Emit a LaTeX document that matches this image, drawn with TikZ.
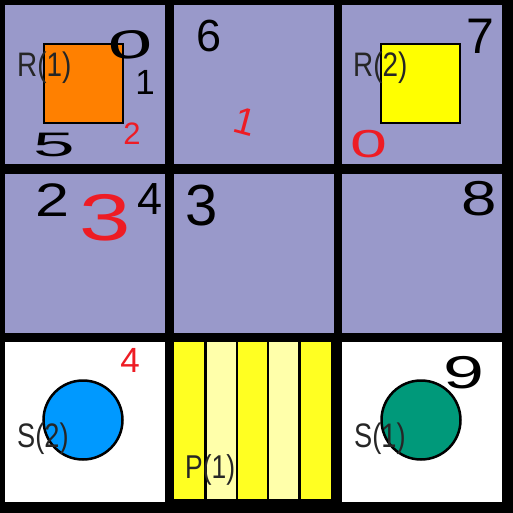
\documentclass[tikz,border=0pt]{standalone}
\usepackage{fontspec}
\setmainfont{Liberation Sans}
\definecolor{lila}{HTML}{9999CA}
\definecolor{naranja}{HTML}{FF8000}
\definecolor{amarillo}{HTML}{FFFF00}
\definecolor{franja}{HTML}{FFFF22}
\definecolor{palido}{HTML}{FFFFAA}
\definecolor{celeste}{HTML}{0099FF}
\definecolor{verde}{HTML}{00997A}
\definecolor{rojo}{HTML}{EE1C24}
\newcommand{\tam}[1]{\fontsize{#1}{#1}\selectfont}

\begin{document}
\begin{tikzpicture}[x=1pt, y=-1pt,
    sqbox/.style={draw=black, line width=2.5pt, minimum size=79pt, inner sep=0pt},
    ball/.style={circle, draw=black, line width=2.5pt, minimum size=79pt, inner sep=0pt},
    tagtext/.style={inner sep=0pt, anchor=base west, text=black!85, font=\tam{34}},
    digit/.style={inner sep=0pt, text=black},
    rdigit/.style={digit, text=rojo}]
    \fill[black] (0,0) rectangle (513,513);
    \foreach \r in {5,174} {
        \foreach \c in {5,174,342}
            \fill[lila] (\c,\r) rectangle (\c+160,\r+159);
    }
    \fill[white] (5,342) rectangle (165,502);
    \fill[white] (342,342) rectangle (502,502);
    % stripes of P(1)
    \foreach \i/\col in {0/franja, 1/palido, 2/franja, 3/palido, 4/franja}
        \fill[\col] (174+\i*31.4,342) rectangle (174+\i*31.4+31.4,499);
    \foreach \i in {1,...,4}
        \draw[line width=2.5pt] (174+\i*31.4,342) -- (174+\i*31.4,499);

    \node[sqbox, fill=naranja] (r1) at (83.5,83.5) {};
    \node[sqbox, fill=amarillo] (r2) at (420.5,83.5) {};
    \node[ball, fill=celeste] (s2) at (83,420) {};
    \node[ball, fill=verde] (s1) at (421,420) {};

    \node[tagtext] (tr1) at (17,77) {\scalebox{0.82}[1]{R(1)}};
    \node[tagtext] (tr2) at (353,77) {\scalebox{0.82}[1]{R(2)}};
    \node[tagtext] (ts2) at (17,447) {\scalebox{0.8}[1]{S(2)}};
    \node[tagtext] (ts1) at (354,447) {\scalebox{0.8}[1]{S(1)}};
    \node[tagtext, font=\tam{33}] (tp1) at (185,478) {\scalebox{0.8}[1]{P(1)}};

    % black digits
    \node[digit, font=\tam{40}, rotate=5] (d0) at (130,45) {\scalebox{2}[1]{0}};
    \node[digit, font=\tam{35}] (d1) at (145,82) {1};
    \node[digit, font=\tam{34}] (d5) at (54,145) {\scalebox{2.2}[1]{5}};
    \node[digit, font=\tam{45}] (d6) at (209,36) {6};
    \node[digit, font=\tam{50}] (d7) at (480,36) {7};
    \node[digit, font=\tam{47}] (d2) at (52,200) {\scalebox{1.3}[1]{2}};
    \node[digit, font=\tam{45}] (d4) at (150,199) {4};
    \node[digit, font=\tam{58}] (d3) at (202,206) {3};
    \node[digit, font=\tam{49}] (d8) at (479,199) {\scalebox{1.3}[1]{8}};
    \node[digit, font=\tam{46}] (d9) at (464,373) {\scalebox{1.6}[1]{9}};

    % red digits
    \node[rdigit, font=\tam{31}] (e2) at (132,134) {2};
    \node[rdigit, font=\tam{38}, rotate=-15] (e1) at (245,122) {1};
    \node[rdigit, font=\tam{39}] (e0) at (369,144) {\scalebox{1.7}[1]{0}};
    \node[rdigit, font=\tam{66}] (e3) at (105,218) {\scalebox{1.4}[1]{3}};
    \node[rdigit, font=\tam{35}] (e4) at (130,360) {4};
\end{tikzpicture}
\end{document}
